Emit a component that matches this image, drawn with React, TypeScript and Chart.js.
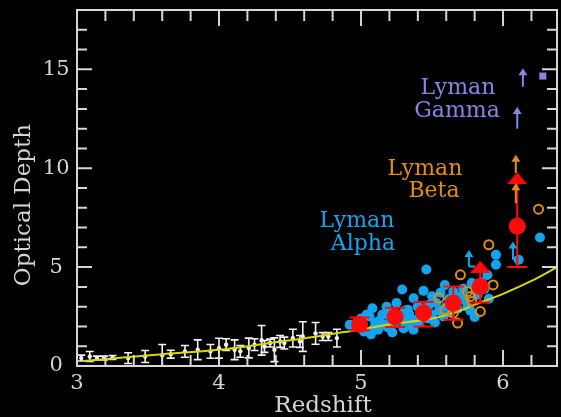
import React, { useEffect, useRef } from 'react';
import { Chart, registerables } from 'chart.js';

Chart.register(...registerables);

// ---------- axes ----------
const X_MIN = 3;
const X_MAX = 6.38;
const Y_MIN = 0;
const Y_MAX = 18;
const X_TICK_VALUES = [3, 4, 5, 6];
const Y_TICK_VALUES = [0, 5, 10, 15];
const X_MINOR_STEP = 0.2;
const Y_MINOR_STEP = 1;
const X_TITLE = 'Redshift';
const Y_TITLE = 'Optical Depth';

// ---------- data ----------
// model fit curve [z, tau]
const fitCurve: [number, number][] = [
  [3.05, 0.25], [3.6, 0.6], [4.0, 0.82], [4.3, 1.1], [4.65, 1.45], [4.95, 1.8],
  [5.2, 2.1], [5.5, 2.4], [5.68, 2.75], [5.8, 3.1], [6.0, 3.65], [6.2, 4.3], [6.38, 5.0],
];

// low-redshift measurements [z, tau, error]
const lowZPoints: [number, number, number][] = [
  [3.03, 0.4, 0.15], [3.09, 0.48, 0.25], [3.14, 0.4, 0.1], [3.19, 0.4, 0.1], [3.25, 0.43, 0.1],
  [3.36, 0.4, 0.27], [3.48, 0.48, 0.3], [3.6, 0.54, 0.55], [3.66, 0.6, 0.2], [3.76, 0.74, 0.3],
  [3.85, 0.82, 0.5], [3.94, 0.74, 0.35], [4.0, 0.9, 0.5], [4.05, 1.08, 0.3], [4.11, 0.82, 0.5],
  [4.15, 0.74, 0.3], [4.21, 0.91, 0.5], [4.25, 1.08, 0.3], [4.3, 1.3, 0.75], [4.32, 0.99, 0.3],
  [4.36, 1.16, 0.2], [4.39, 0.82, 0.6], [4.43, 1.24, 0.3], [4.46, 1.16, 0.3], [4.52, 1.41, 0.45],
  [4.57, 1.24, 0.3], [4.59, 1.49, 0.75], [4.68, 1.65, 0.55], [4.73, 1.49, 0.2], [4.77, 1.49, 0.2],
  [4.83, 1.41, 0.45],
];

// Lyman alpha quasar measurements [z, tau]
const alphaPoints: [number, number][] = [
  [4.92, 2.09], [4.97, 2.15], [5.0, 2.4], [5.02, 1.75], [5.04, 2.6], [5.06, 2.5], [5.07, 1.6],
  [5.08, 2.92], [5.09, 1.9], [5.1, 2.2], [5.12, 1.83], [5.13, 2.3], [5.15, 2.59], [5.16, 2.1],
  [5.18, 3.0], [5.19, 1.95], [5.2, 2.7], [5.21, 2.4], [5.22, 1.7], [5.24, 2.2], [5.25, 3.18],
  [5.27, 2.55], [5.29, 3.87], [5.3, 1.9], [5.31, 2.8], [5.32, 2.3], [5.33, 2.84], [5.34, 2.6],
  [5.36, 2.0], [5.37, 3.43], [5.37, 1.83], [5.38, 2.34], [5.4, 3.0], [5.41, 2.2], [5.43, 2.9],
  [5.44, 3.8], [5.46, 4.88], [5.47, 2.4], [5.48, 3.1], [5.5, 3.53], [5.5, 2.6], [5.52, 2.2],
  [5.53, 3.2], [5.55, 2.8], [5.56, 3.7], [5.58, 2.5], [5.59, 4.09], [5.6, 3.0], [5.62, 3.4],
  [5.63, 2.7], [5.65, 3.75], [5.66, 3.1], [5.68, 2.9], [5.7, 3.5], [5.72, 3.9], [5.73, 3.32],
  [5.75, 3.0], [5.77, 2.8], [5.78, 4.2], [5.8, 2.48], [5.82, 3.6], [5.85, 4.25], [5.87, 3.9],
  [5.89, 4.6], [5.9, 3.4], [5.95, 5.12], [5.95, 5.62], [6.11, 5.37], [6.26, 6.5],
];

// Lyman beta measurements [z, tau]
const betaPoints: [number, number][] = [
  [5.9, 6.13], [5.7, 4.61], [5.93, 4.1], [5.55, 3.43], [5.75, 3.77], [5.77, 3.52],
  [5.59, 2.84], [5.84, 2.76], [5.68, 2.17], [5.78, 3.26], [5.65, 2.68], [6.25, 7.93],
];

// binned means [z, tau, lower, upper]
const meanPoints: [number, number, number, number][] = [
  [4.99, 2.1, 1.8, 2.45], [5.24, 2.48, 1.97, 2.95], [5.44, 2.68, 2.0, 3.24],
  [5.65, 3.17, 2.34, 4.02], [5.84, 4.02, 3.21, 5.03], [6.1, 7.07, 5.0, 9.5],
];
const meanHasUpperCap = [true, true, true, true, false, false];

// lower limits on binned means [z, tau]
const meanLowerLimits: [number, number][] = [[5.84, 5.03], [6.1, 9.5]];

// Lyman gamma measurement [z, tau]
const gammaPoints: [number, number][] = [[6.28, 14.66]];

// lower-limit arrows [z, from tau, to tau]
const alphaLimits: [number, number, number][] = [[5.76, 5.03, 5.87], [6.07, 5.37, 6.29]];
const betaLimits: [number, number, number][] = [[6.09, 9.76, 10.68], [6.09, 8.23, 9.24]];
const gammaLimits: [number, number, number][] = [[6.14, 14.12, 15.05], [6.1, 12.0, 13.1]];

// ---------- style ----------
const FONT = "'DejaVu Serif', serif";
const AXIS_COLOR = '#d6d6d6';
const TEXT_COLOR = '#d4d4d4';
const RED = '#ff0a0a';
const BLUE = '#12a4ee';
const ORANGE = '#e08e0b';
const PURPLE = '#8585e6';
const YELLOW = '#d8d800';
const WHITE = '#f2f2f2';

const IDX_MEAN = 0;
const IDX_WHITE = 6;

function makeTriangle(w: number, h: number, color: string) {
  const c = document.createElement('canvas');
  c.width = w;
  c.height = h;
  const g = c.getContext('2d')!;
  g.fillStyle = color;
  g.beginPath();
  g.moveTo(w / 2, 0);
  g.lineTo(w, h);
  g.lineTo(0, h);
  g.closePath();
  g.fill();
  return c;
}

function drawArrow(ctx: CanvasRenderingContext2D, x: number, yFrom: number, yTo: number, color: string) {
  const head = 7;
  ctx.save();
  ctx.strokeStyle = color;
  ctx.fillStyle = color;
  ctx.lineWidth = 2;
  ctx.beginPath();
  ctx.moveTo(x, yFrom);
  ctx.lineTo(x, yTo + head - 1);
  ctx.stroke();
  ctx.beginPath();
  ctx.moveTo(x, yTo);
  ctx.lineTo(x + 4.5, yTo + head);
  ctx.lineTo(x - 4.5, yTo + head);
  ctx.closePath();
  ctx.fill();
  ctx.restore();
}

const errorBarPlugin = {
  id: 'errorBars',
  afterDatasetDraw(chart: any, args: any) {
    const { ctx, scales } = chart;
    const xs = scales.x;
    const ys = scales.y;
    if (args.index === IDX_WHITE) {
      ctx.save();
      ctx.strokeStyle = WHITE;
      ctx.lineWidth = 1.6;
      lowZPoints.forEach(([z, t, e]) => {
        const px = xs.getPixelForValue(z);
        const y1 = ys.getPixelForValue(t - e);
        const y2 = ys.getPixelForValue(t + e);
        ctx.beginPath();
        ctx.moveTo(px, y1); ctx.lineTo(px, y2);
        ctx.moveTo(px - 4, y1); ctx.lineTo(px + 4, y1);
        ctx.moveTo(px - 4, y2); ctx.lineTo(px + 4, y2);
        ctx.stroke();
      });
      ctx.restore();
    }
    if (args.index === IDX_MEAN) {
      ctx.save();
      ctx.strokeStyle = RED;
      ctx.lineWidth = 2;
      meanPoints.forEach(([z, , lo, hi], i) => {
        const px = xs.getPixelForValue(z);
        const y1 = ys.getPixelForValue(lo);
        const y2 = ys.getPixelForValue(hi);
        ctx.beginPath();
        ctx.moveTo(px, y1); ctx.lineTo(px, y2);
        ctx.moveTo(px - 10, y1); ctx.lineTo(px + 10, y1);
        if (meanHasUpperCap[i]) { ctx.moveTo(px - 10, y2); ctx.lineTo(px + 10, y2); }
        ctx.stroke();
      });
      ctx.restore();
    }
  },
};

const decorPlugin = {
  id: 'decor',
  afterDatasetsDraw(chart: any) {
    const { ctx, scales } = chart;
    const xs = scales.x;
    const ys = scales.y;
    const arrows = (list: [number, number, number][], color: string) =>
      list.forEach(([z, a, b]) => drawArrow(ctx, xs.getPixelForValue(z), ys.getPixelForValue(a), ys.getPixelForValue(b), color));
    arrows(alphaLimits, BLUE);
    {
      const [z, a] = alphaLimits[0];
      const px = xs.getPixelForValue(z);
      const py = ys.getPixelForValue(a);
      ctx.save();
      ctx.strokeStyle = BLUE; ctx.lineWidth = 2;
      ctx.beginPath(); ctx.moveTo(px, py); ctx.lineTo(px + 6, py); ctx.stroke();
      ctx.restore();
    }
    arrows(betaLimits, ORANGE);
    arrows(gammaLimits, PURPLE);
  },
  afterDraw(chart: any) {
    const { ctx, chartArea: a, scales } = chart;
    const xs = scales.x;
    const ys = scales.y;
    ctx.save();
    ctx.strokeStyle = AXIS_COLOR;
    ctx.lineWidth = 2;
    ctx.strokeRect(a.left, a.top, a.right - a.left, a.bottom - a.top);
    ctx.beginPath();
    for (let i = 1; ; i++) {
      const v = X_MIN + i * X_MINOR_STEP;
      if (v > X_MAX + 1e-9) break;
      const px = xs.getPixelForValue(v);
      const major = Math.abs(v - Math.round(v)) < 1e-6;
      const L = major ? 16 : 11;
      ctx.moveTo(px, a.bottom); ctx.lineTo(px, a.bottom - L);
      ctx.moveTo(px, a.top); ctx.lineTo(px, a.top + L);
    }
    for (let i = 1; ; i++) {
      const v = Y_MIN + i * Y_MINOR_STEP;
      if (v >= Y_MAX - 1e-9) break;
      const py = ys.getPixelForValue(v);
      const major = v % 5 === 0;
      const L = major ? 15 : 10;
      ctx.moveTo(a.left, py); ctx.lineTo(a.left + L, py);
      ctx.moveTo(a.right, py); ctx.lineTo(a.right - L, py);
    }
    ctx.stroke();

    ctx.fillStyle = TEXT_COLOR;
    ctx.font = `23px ${FONT}`;
    ctx.textAlign = 'center';
    ctx.textBaseline = 'alphabetic';
    ctx.fillText(X_TITLE, (a.left + a.right) / 2 + 6, 412);
    ctx.save();
    ctx.translate(30, 205);
    ctx.rotate(-Math.PI / 2);
    ctx.fillText(Y_TITLE, 0, 0);
    ctx.restore();

    ctx.font = `22px ${FONT}`;
    ctx.fillStyle = PURPLE;
    ctx.fillText('Lyman', 458, 94);
    ctx.fillText('Gamma', 457, 117);
    ctx.fillStyle = ORANGE;
    ctx.fillText('Lyman', 425, 175);
    ctx.fillText('Beta', 434, 197);
    ctx.fillStyle = BLUE;
    ctx.fillText('Lyman', 357, 227);
    ctx.fillText('Alpha', 363, 250);
    ctx.restore();
  },
};

function zeroPadding(s: any) {
  s.paddingTop = 0;
  s.paddingBottom = 0;
  s.paddingLeft = 0;
  s.paddingRight = 0;
}

export default function App() {
  const ref = useRef<HTMLCanvasElement | null>(null);

  useEffect(() => {
    document.body.style.margin = '0';
    document.body.style.background = '#000';
    const canvas = ref.current!;
    const tri = makeTriangle(20, 12, RED);
    const chart = new Chart(canvas, {
      type: 'scatter',
      data: {
        datasets: [
          {
            label: 'mean',
            data: meanPoints.map(([x, y]) => ({ x, y })),
            pointRadius: 8.5,
            backgroundColor: RED,
            borderWidth: 0,
            order: 0,
          },
          {
            label: 'meanLimit',
            data: meanLowerLimits.map(([x, y]) => ({ x, y })),
            pointStyle: tri as any,
            pointRadius: 10,
            order: 0,
          },
          {
            label: 'gamma',
            data: gammaPoints.map(([x, y]) => ({ x, y })),
            pointStyle: 'rect',
            pointRadius: 5,
            backgroundColor: PURPLE,
            borderWidth: 0,
            order: 0,
          },
          {
            label: 'beta',
            data: betaPoints.map(([x, y]) => ({ x, y })),
            pointRadius: 4.5,
            backgroundColor: 'rgba(0,0,0,0)',
            borderColor: ORANGE,
            borderWidth: 2,
            order: 1,
          },
          {
            type: 'line',
            label: 'fit',
            data: fitCurve.map(([x, y]) => ({ x, y })),
            borderColor: YELLOW,
            borderWidth: 2,
            pointRadius: 0,
            tension: 0.3,
            fill: false,
            order: 2,
          } as any,
          {
            label: 'alpha',
            data: alphaPoints.map(([x, y]) => ({ x, y })),
            pointRadius: 5,
            backgroundColor: BLUE,
            borderWidth: 0,
            order: 3,
          },
          {
            label: 'lowz',
            data: lowZPoints.map(([x, y]) => ({ x, y })),
            pointRadius: 2.2,
            backgroundColor: WHITE,
            borderWidth: 0,
            order: 4,
          },
        ],
      },
      options: {
        responsive: false,
        animation: false,
        devicePixelRatio: 1,
        events: [],
        layout: { autoPadding: false, padding: { left: 0, right: 4, top: 10, bottom: 0 } },
        plugins: { legend: { display: false }, tooltip: { enabled: false } },
        scales: {
          x: {
            type: 'linear',
            min: X_MIN,
            max: X_MAX,
            grid: { display: false, drawTicks: false },
            border: { display: false },
            afterBuildTicks: (s: any) => { s.ticks = X_TICK_VALUES.map((value) => ({ value })); },
            afterFit: (s: any) => { s.height = 51; zeroPadding(s); },
            ticks: {
              color: TEXT_COLOR,
              font: { family: FONT, size: 21 },
              padding: 5,
              maxRotation: 0,
              autoSkip: false,
            },
          },
          y: {
            type: 'linear',
            min: Y_MIN,
            max: Y_MAX,
            grid: { display: false, drawTicks: false },
            border: { display: false },
            afterBuildTicks: (s: any) => { s.ticks = Y_TICK_VALUES.map((value) => ({ value })); },
            afterFit: (s: any) => { s.width = 77; zeroPadding(s); },
            ticks: {
              color: TEXT_COLOR,
              font: { family: FONT, size: 21 },
              padding: 7.5,
              crossAlign: 'center',
              autoSkip: false,
            },
          },
        },
      },
      plugins: [errorBarPlugin, decorPlugin],
    });
    return () => chart.destroy();
  }, []);

  return (
    <div style={{ width: 561, height: 417, background: '#000' }}>
      <canvas ref={ref} width={561} height={417} style={{ display: 'block' }} />
    </div>
  );
}
